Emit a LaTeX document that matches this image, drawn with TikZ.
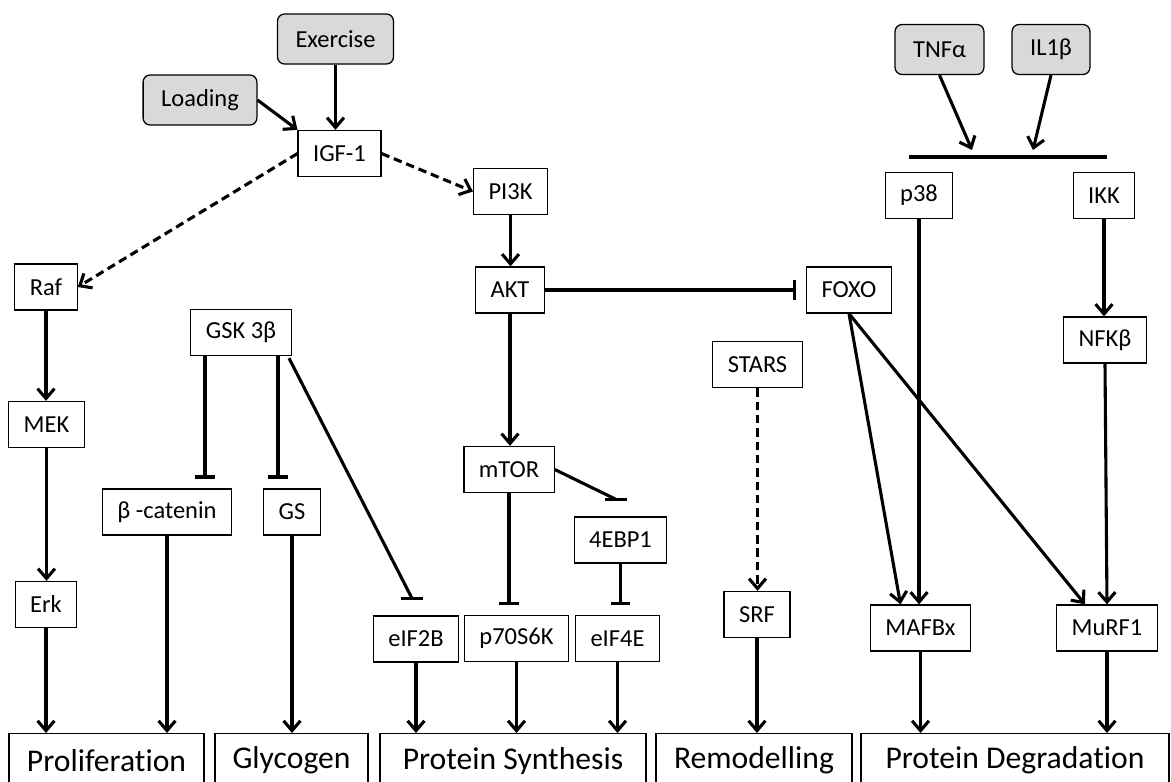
\documentclass[tikz,border=0pt]{standalone}
\usepackage{fontspec}
\setmainfont{Carlito}[Ligatures=NoCommon]
\usetikzlibrary{arrows.meta,calc}

\begin{document}
\begin{tikzpicture}[x=0.025cm,y=-0.025cm,
  box/.style={draw,line width=0.9pt,inner xsep=0.375cm,inner ysep=0pt,minimum height=1.15cm,font=\fontsize{17.4}{20}\selectfont},
  input/.style={box,rounded corners=5pt,fill=gray!30,inner xsep=0.45cm,minimum height=1.25cm},
  outcome/.style={draw,line width=0.9pt,anchor=north,minimum height=1.35cm,font=\fontsize{22.5}{26}\selectfont},
  act/.style={line width=2.2pt,-{Straight Barb[length=7pt,width=12pt]}},
  dact/.style={act,dash pattern=on 6pt off 3.5pt},
  inh/.style={line width=2.2pt,-{Bar[width=14pt]},shorten >=7pt},
  tline/.style={line width=2.2pt}]
\clip (0,0) rectangle (1171,782);

%stimuli
\node[input] (exer) at (335.5,39) {Exercise};
\node[input] (load) at (200,100) {Loading};
\node[input] (tnf) at (939.5,49.5) {TNFα};
\node[input] (il1) at (1051,49.5) {IL1β};

%signalling
\node[box] (igf) at (339.5,153.5) {IGF-1};
\node[box] (pik) at (510.5,191.5) {PI3K};
\node[box] (akt) at (510,290) {AKT};
\node[box] (mtor) at (509,469.5) {mTOR};
\node[box] (ebp) at (620.5,540) {4EBP1};
\node[box] (p70) at (516.5,638.5) {p70S6K};
\node[box] (eif4e) at (617.5,638.5) {eIF4E};
\node[box] (raf) at (46,287) {Raf};
\node[box] (mek) at (46.5,424.5) {MEK};
\node[box] (erk) at (46,604.5) {Erk};
\node[box] (gsk) at (241,332.5) {GSK 3β};
\node[box] (bcat) at (167,512) {β -catenin};
\node[box] (gs) at (292,512) {GS};
\node[box] (eif2b) at (416,639) {eIF2B};
\node[box] (stars) at (757.5,364.5) {STARS};
\node[box] (srf) at (757,614.5) {SRF};
\node[box] (foxo) at (849,290) {FOXO};
\node[box] (p38) at (919,195.5) {p38};
\node[box] (ikk) at (1104,195.5) {IKK};
\node[box] (nfk) at (1105,340) {NFKβ};
\node[box] (mafbx) at (920.5,628) {MAFBx};
\node[box] (murf) at (1107,628) {MuRF1};

%outcomes
\node[outcome,minimum width=4.875cm] (prolif) at (106.5,733) {Proliferation};
\node[outcome,minimum width=3.825cm] (glyc) at (291.5,733) {Glycogen};
\node[outcome,minimum width=6.65cm] (psyn) at (513,733) {Protein Synthesis};
\node[outcome,minimum width=4.9cm] (remod) at (754,733) {Remodelling};
\node[outcome,minimum width=7.7cm] (pdeg) at (1015,733) {Protein Degradation};

%IGF-1 branch
\draw[act] (load.east) -- (igf.north west);
\draw[act] (exer.south) -- (exer.south |- igf.north);
\draw[dact] (igf.east) -- (pik.west);
\draw[dact] (igf.west) -- (raf.east);
\draw[act] (pik.south) -- (pik.south |- akt.north);
\draw[inh] (akt.east) -- (foxo.west);
\draw[act] (akt.south) -- (akt.south |- mtor.north);
\draw[inh] (mtor.south) -- (mtor.south |- p70.north);
\draw[tline] (mtor.east) -- ($(ebp.north)+(-4.5,-17)$) coordinate (m4);
\draw[tline] ($(m4)+(-11,0)$) -- ($(m4)+(11,0)$);
\draw[inh] (ebp.south) -- (ebp.south |- eif4e.north);

%MAPK
\draw[act] (raf.south) -- (raf.south |- mek.north);
\draw[act] (mek.south) -- (mek.south |- erk.north);

%GSK 3beta
\draw[inh] ($(gsk.south)+(-36,0)$) coordinate (g1) -- (g1 |- bcat.north);
\draw[inh] ($(gsk.south)+(37,0)$) coordinate (g2) -- (g2 |- gs.north);
\draw[tline] ($(gsk.south)+(48,2)$) -- ($(eif2b.north)+(-4,-17)$) coordinate (g3);
\draw[tline] ($(g3)+(-11,0)$) -- ($(g3)+(11,0)$);

%STARS
\draw[dact] (stars.south) -- (stars.south |- srf.north);

%cytokines
\coordinate (jl) at (909,157);
\coordinate (jr) at (1107,157);
\coordinate (jt) at (972,150);
\coordinate (ji) at (1033,150);
\draw[tline] (jl) -- (jr);
\draw[act] (tnf.south) -- (jt);
\draw[act] (il1.south) -- (ji);
\draw[act] (p38.south) -- (p38.south |- mafbx.north);
\draw[act] (ikk.south) -- (ikk.south |- nfk.north);
\draw[act] (nfk.south) -- (murf.north);
\draw[act] (foxo.south) -- ($(mafbx.north)+(-20,0)$);
\draw[act] (foxo.south) -- ($(murf.north)+(-22,0)$);

%to outcomes
\draw[act] (erk.south) -- (erk.south |- prolif.north);
\draw[act] (bcat.south) -- (bcat.south |- prolif.north);
\draw[act] (gs.south) -- (gs.south |- glyc.north);
\draw[act] (eif2b.south) -- (eif2b.south |- psyn.north);
\draw[act] (p70.south) -- (p70.south |- psyn.north);
\draw[act] (eif4e.south) -- (eif4e.south |- psyn.north);
\draw[act] (srf.south) -- (srf.south |- remod.north);
\draw[act] (mafbx.south) -- (mafbx.south |- pdeg.north);
\draw[act] (murf.south) -- (murf.south |- pdeg.north);
\end{tikzpicture}
\end{document}
